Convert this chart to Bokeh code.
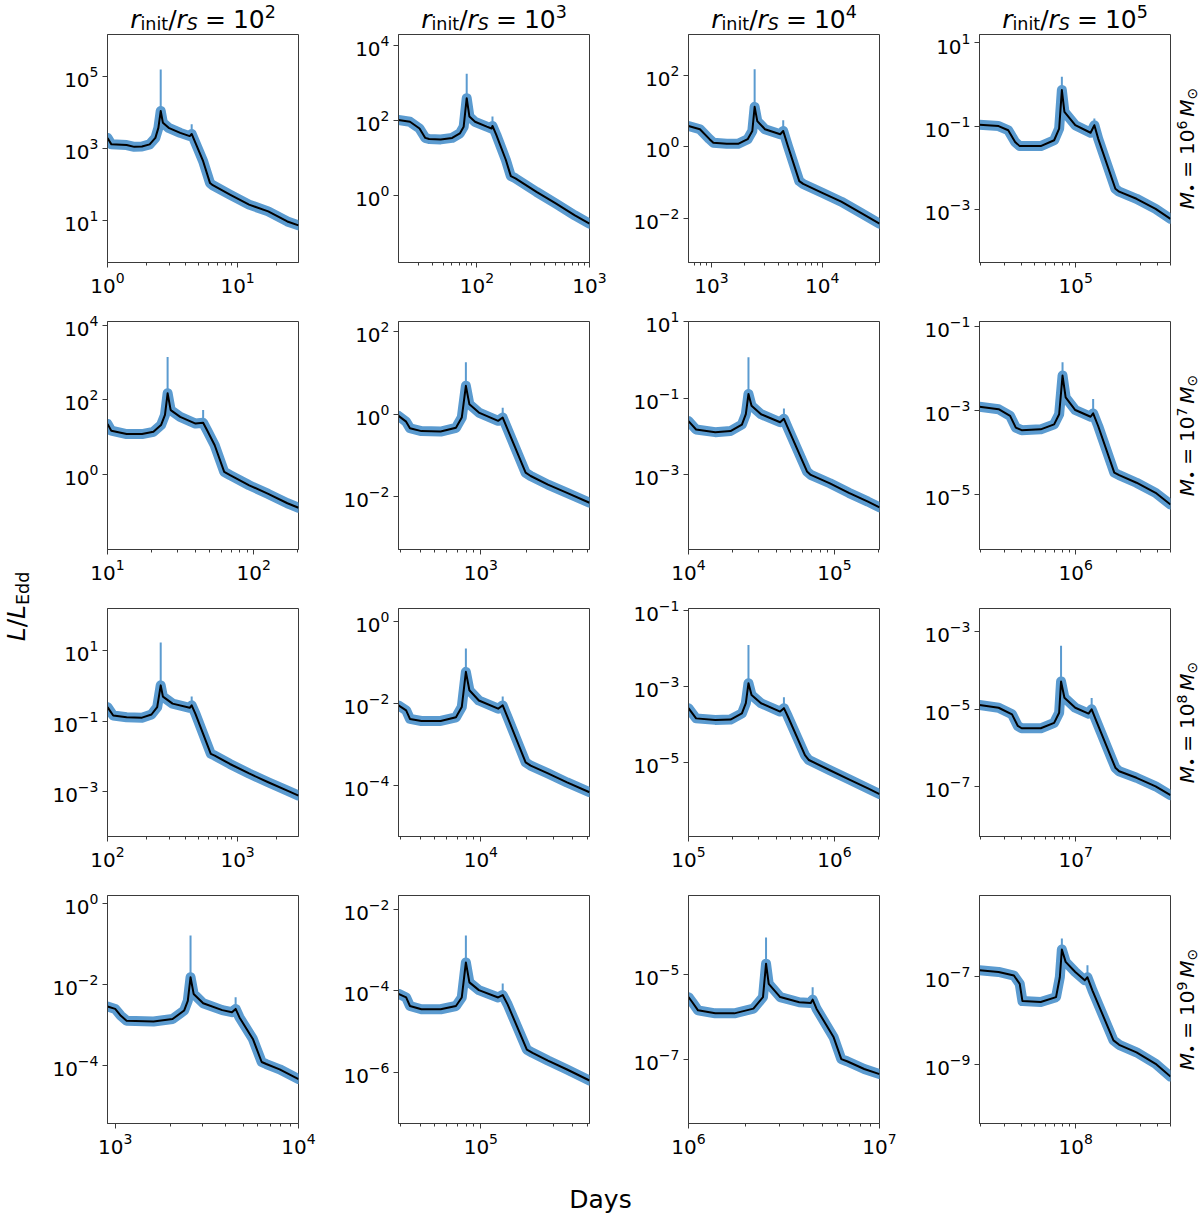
import numpy as np
from bokeh.plotting import figure
from bokeh.layouts import row, column
from bokeh.models import Range1d, FixedTicker, Label
from bokeh.embed import file_html
from bokeh.resources import INLINE

# ---------------- data (log10 days, log10 L/L_Edd) ----------------
R_INIT_EXP = [2, 3, 4, 5]
MASS_EXP = [6, 7, 8, 9]

T_11 = [0.0, 0.03, 0.147, 0.206, 0.265, 0.324, 0.368, 0.391, 0.409, 0.426, 0.47, 0.559, 0.632, 0.647, 0.676, 0.735, 0.788, 0.809, 0.941, 1.088, 1.235, 1.382, 1.468]
L_11 = [3.30, 3.12, 3.10, 3.05, 3.06, 3.12, 3.30, 3.58, 4.05, 3.72, 3.58, 3.44, 3.35, 3.41, 3.16, 2.65, 2.04, 1.98, 1.72, 1.44, 1.25, 0.97, 0.86]
SPIKES_11 = [[0.409, 4.05, 5.21], [0.647, 3.41, 3.68]]

T_12 = [1.303, 1.405, 1.49, 1.541, 1.575, 1.678, 1.78, 1.848, 1.882, 1.909, 1.933, 1.983, 2.087, 2.13, 2.138, 2.172, 2.257, 2.301, 2.342, 2.529, 2.7, 2.87, 3.0]
L_12 = [2.02, 1.97, 1.79, 1.54, 1.51, 1.50, 1.54, 1.66, 1.84, 2.60, 2.11, 1.97, 1.84, 1.79, 1.86, 1.62, 0.95, 0.52, 0.46, 0.10, -0.21, -0.53, -0.75]
SPIKES_12 = [[1.909, 2.60, 3.25], [2.138, 1.86, 2.11]]

T_13 = [2.793, 2.896, 2.983, 3.017, 3.138, 3.241, 3.327, 3.369, 3.39, 3.414, 3.483, 3.621, 3.648, 3.69, 3.793, 3.828, 4.0, 4.172, 4.345, 4.517]
L_13 = [0.59, 0.50, 0.22, 0.12, 0.09, 0.09, 0.22, 0.45, 1.13, 0.73, 0.50, 0.36, 0.45, 0.03, -0.96, -1.04, -1.29, -1.54, -1.85, -2.16]
SPIKES_13 = [[3.39, 1.13, 2.19], [3.648, 0.45, 0.75]]

T_14 = [4.29, 4.431, 4.502, 4.553, 4.587, 4.742, 4.841, 4.878, 4.898, 4.917, 4.997, 5.11, 5.138, 5.166, 5.293, 5.321, 5.449, 5.59, 5.70]
L_14 = [-0.97, -1.0, -1.10, -1.38, -1.48, -1.48, -1.34, -1.06, -0.14, -0.66, -0.98, -1.16, -0.98, -1.30, -2.50, -2.57, -2.74, -2.98, -3.22]
SPIKES_14 = [[4.898, -0.14, 0.18], [5.138, -0.98, -0.82]]

T_21 = [1.0, 1.026, 1.131, 1.236, 1.314, 1.366, 1.393, 1.411, 1.432, 1.497, 1.602, 1.654, 1.681, 1.733, 1.798, 1.838, 1.969, 2.099, 2.23, 2.306]
L_21 = [1.36, 1.18, 1.09, 1.09, 1.15, 1.33, 1.60, 2.18, 1.73, 1.55, 1.37, 1.39, 1.19, 0.79, 0.08, -0.01, -0.28, -0.51, -0.76, -0.88]
SPIKES_21 = [[1.411, 2.18, 3.15], [1.654, 1.39, 1.73]]

T_22 = [2.461, 2.511, 2.536, 2.611, 2.737, 2.837, 2.875, 2.902, 2.925, 2.987, 3.113, 3.143, 3.175, 3.293, 3.326, 3.439, 3.564, 3.711]
L_22 = [-0.04, -0.18, -0.34, -0.41, -0.42, -0.33, -0.08, 0.69, 0.24, 0.04, -0.16, -0.08, -0.37, -1.42, -1.50, -1.71, -1.91, -2.15]
SPIKES_22 = [[2.902, 0.69, 1.26], [3.143, -0.08, 0.16]]

T_23 = [4.0, 4.052, 4.183, 4.288, 4.366, 4.393, 4.411, 4.432, 4.497, 4.628, 4.654, 4.681, 4.812, 4.838, 4.969, 5.099, 5.23, 5.309]
L_23 = [-1.60, -1.82, -1.89, -1.86, -1.69, -1.42, -0.89, -1.20, -1.42, -1.63, -1.54, -1.78, -2.92, -3.01, -3.23, -3.48, -3.71, -3.86]
SPIKES_23 = [[4.411, -0.89, 0.07], [4.654, -1.54, -1.27]]

T_24 = [5.29, 5.431, 5.516, 5.558, 5.601, 5.742, 5.841, 5.878, 5.903, 5.926, 5.997, 6.11, 6.129, 6.166, 6.285, 6.321, 6.449, 6.59, 6.70]
L_24 = [-2.90, -2.96, -3.12, -3.40, -3.46, -3.44, -3.32, -3.08, -2.16, -2.68, -2.98, -3.14, -3.06, -3.36, -4.47, -4.53, -4.71, -4.95, -5.23]
SPIKES_24 = [[5.903, -2.16, -1.84], [6.129, -3.06, -2.72]]

T_31 = [2.0, 2.044, 2.147, 2.265, 2.338, 2.382, 2.409, 2.426, 2.5, 2.632, 2.647, 2.676, 2.794, 2.824, 2.941, 3.088, 3.235, 3.382, 3.468]
L_31 = [-0.60, -0.84, -0.89, -0.90, -0.81, -0.60, 0.02, -0.30, -0.50, -0.62, -0.55, -0.79, -1.93, -1.98, -2.22, -2.49, -2.74, -2.98, -3.12]
SPIKES_31 = [[2.409, 0.02, 1.24], [2.647, -0.55, -0.30]]

T_32 = [3.461, 3.511, 3.536, 3.611, 3.737, 3.837, 3.875, 3.902, 3.925, 3.987, 4.113, 4.143, 4.175, 4.293, 4.326, 4.439, 4.564, 4.711]
L_32 = [-2.04, -2.16, -2.37, -2.42, -2.42, -2.33, -2.08, -1.22, -1.67, -1.92, -2.12, -2.04, -2.33, -3.43, -3.51, -3.70, -3.92, -4.16]
SPIKES_32 = [[3.902, -1.22, -0.65], [4.143, -2.04, -1.82]]

T_33 = [5.0, 5.052, 5.183, 5.288, 5.366, 5.393, 5.411, 5.432, 5.497, 5.628, 5.654, 5.681, 5.798, 5.825, 5.969, 6.099, 6.23, 6.309]
L_33 = [-3.57, -3.84, -3.88, -3.87, -3.71, -3.44, -2.91, -3.22, -3.44, -3.66, -3.57, -3.79, -4.81, -4.94, -5.21, -5.45, -5.69, -5.84]
SPIKES_33 = [[5.411, -2.91, -1.90], [5.654, -3.57, -3.28]]

T_34 = [6.29, 6.431, 6.53, 6.573, 6.601, 6.742, 6.841, 6.878, 6.892, 6.917, 6.997, 7.095, 7.118, 7.152, 7.293, 7.321, 7.449, 7.59, 7.70]
L_34 = [-4.89, -4.96, -5.13, -5.43, -5.49, -5.49, -5.35, -5.09, -4.28, -4.70, -4.96, -5.11, -5.00, -5.30, -6.51, -6.60, -6.77, -6.99, -7.22]
SPIKES_34 = [[6.892, -4.28, -3.36], [7.118, -5.00, -4.71]]

T_41 = [2.958, 3.0, 3.031, 3.062, 3.209, 3.313, 3.376, 3.396, 3.411, 3.428, 3.48, 3.584, 3.637, 3.657, 3.678, 3.751, 3.799, 3.824, 3.897, 4.0]
L_41 = [-2.54, -2.60, -2.77, -2.89, -2.91, -2.85, -2.64, -2.40, -1.82, -2.23, -2.46, -2.63, -2.68, -2.60, -2.81, -3.34, -3.91, -3.96, -4.09, -4.33]
SPIKES_41 = [[3.411, -1.82, -0.79], [3.657, -2.60, -2.31]]

T_42 = [4.461, 4.511, 4.536, 4.611, 4.737, 4.837, 4.875, 4.902, 4.925, 4.987, 5.113, 5.143, 5.175, 5.301, 5.338, 5.439, 5.564, 5.711]
L_42 = [-4.07, -4.16, -4.37, -4.45, -4.45, -4.37, -4.16, -3.30, -3.79, -3.98, -4.16, -4.10, -4.33, -5.44, -5.52, -5.71, -5.93, -6.20]
SPIKES_42 = [[4.902, -3.30, -2.64], [5.143, -4.10, -3.82]]

T_43 = [6.0, 6.02, 6.05, 6.14, 6.24, 6.34, 6.39, 6.406, 6.42, 6.48, 6.58, 6.64, 6.65, 6.67, 6.76, 6.80, 6.83, 6.92, 7.0]
L_43 = [-5.53, -5.65, -5.84, -5.91, -5.91, -5.80, -5.53, -4.75, -5.22, -5.53, -5.65, -5.67, -5.59, -5.80, -6.47, -6.98, -7.03, -7.21, -7.33]
SPIKES_43 = [[6.406, -4.75, -4.14], [6.65, -5.59, -5.30]]

T_44 = [7.29, 7.431, 7.544, 7.587, 7.607, 7.742, 7.855, 7.883, 7.898, 7.926, 7.997, 8.067, 8.087, 8.124, 8.279, 8.321, 8.449, 8.59, 8.70]
L_44 = [-6.86, -6.90, -6.98, -7.17, -7.56, -7.58, -7.47, -7.02, -6.39, -6.67, -6.90, -7.09, -7.02, -7.32, -8.45, -8.55, -8.72, -8.98, -9.27]
SPIKES_44 = [[7.898, -6.39, -6.14], [8.087, -7.02, -6.75]]

# axis limits (log10) and labelled y-tick exponents, per row
XLIM_ROW1 = [(0.0, 1.468), (1.303, 3.0), (2.793, 4.517), (4.29, 5.70)]
XLIM_ROW2 = [(1.0, 2.306), (2.461, 3.711), (4.0, 5.309), (5.29, 6.70)]
XLIM_ROW3 = [(2.0, 3.468), (3.461, 4.711), (5.0, 6.309), (6.29, 7.70)]
XLIM_ROW4 = [(2.958, 4.0), (4.461, 5.711), (6.0, 7.0), (7.29, 8.70)]
YLIM_ROW1 = [(-0.175, 6.184), (-1.786, 4.30), (-3.252, 3.167), (-4.264, 1.19)]
YLIM_ROW2 = [(-1.996, 4.098), (-3.285, 2.252), (-4.965, 1.01), (-6.299, -0.873)]
YLIM_ROW3 = [(-4.286, 2.21), (-5.241, 0.327), (-6.96, -0.938), (-8.287, -2.395)]
YLIM_ROW4 = [(-5.427, 0.198), (-7.257, -1.655), (-8.484, -3.156), (-10.333, -5.167)]
YTICKS_ROW1 = [[1, 3, 5], [0, 2, 4], [-2, 0, 2], [-3, -1, 1]]
YTICKS_ROW2 = [[0, 2, 4], [-2, 0, 2], [-3, -1, 1], [-5, -3, -1]]
YTICKS_ROW3 = [[-3, -1, 1], [-4, -2, 0], [-5, -3, -1], [-7, -5, -3]]
YTICKS_ROW4 = [[-4, -2, 0], [-6, -4, -2], [-7, -5], [-9, -7]]

# ---------------- assembly ----------------
PANELS = [
    [(T_11, L_11, SPIKES_11), (T_12, L_12, SPIKES_12), (T_13, L_13, SPIKES_13), (T_14, L_14, SPIKES_14)],
    [(T_21, L_21, SPIKES_21), (T_22, L_22, SPIKES_22), (T_23, L_23, SPIKES_23), (T_24, L_24, SPIKES_24)],
    [(T_31, L_31, SPIKES_31), (T_32, L_32, SPIKES_32), (T_33, L_33, SPIKES_33), (T_34, L_34, SPIKES_34)],
    [(T_41, L_41, SPIKES_41), (T_42, L_42, SPIKES_42), (T_43, L_43, SPIKES_43), (T_44, L_44, SPIKES_44)],
]
XLIM = [XLIM_ROW1, XLIM_ROW2, XLIM_ROW3, XLIM_ROW4]
YLIM = [YLIM_ROW1, YLIM_ROW2, YLIM_ROW3, YLIM_ROW4]
YTICKS = [YTICKS_ROW1, YTICKS_ROW2, YTICKS_ROW3, YTICKS_ROW4]

BLUE = "#5b9bd0"
FONT = "DejaVu Sans"
SPINE = "#3a3a3a"
FRAME_W, FRAME_H = 191, 228
BORDER_L = [63, 75, 74, 75]
BORDER_R = [25, 25, 25, 2]
BORDER_T = [1, 19, 19, 19]
BORDER_B = [40, 40, 40, 47]
LEFT_W, RIGHT_W, TOP_H, BOTTOM_H = 44, 28, 33, 48
TOTAL_W, TOTAL_H = 1200, 1218
MID_W = TOTAL_W - LEFT_W - RIGHT_W
FRAME_LEFT = [107, 398, 688, 979]    # page x of panel frames
ROW_CENTERS = [148, 435, 722, 1009]  # page y of panel centres
BASE_FIX = 0.28                      # baseline correction (fraction of font size)

EM = {"r": 0.411, "i": 0.278, "n": 0.634, "t": 0.392, "/": 0.337, "S": 0.635, "=": 0.838,
      "M": 0.863, "\u2022": 0.590, "\u2299": 0.838, "L": 0.557, "E": 0.632, "d": 0.635,
      " ": 0.318, "D": 0.770, "a": 0.613, "y": 0.592, "s": 0.521}
for _d in "0123456789":
    EM[_d] = 0.636


def put_text(p, pieces, size, center, base, vertical=False):
    """pieces: (text, rel_size, italic, shift_up_px, gap_before, gap_after); data units = pixels."""
    widths = [g0 + g1 + size * rs * sum(EM[ch] for ch in txt) for txt, rs, it, sh, g0, g1 in pieces]
    pos = center - sum(widths) / 2.0
    for (txt, rs, it, sh, g0, g1), w in zip(pieces, widths):
        pos += g0
        fs = size * rs
        kw = dict(text=txt, text_font=FONT, text_font_size=f"{fs:.1f}px",
                  text_font_style="italic" if it else "normal", text_color="black",
                  text_align="left", text_baseline="alphabetic")
        fix = BASE_FIX * fs
        if vertical:
            lab = Label(x=base - sh - fix, y=pos, angle=np.pi / 2, **kw)
        else:
            lab = Label(x=pos, y=base + sh + fix, **kw)
        p.add_layout(lab)
        pos += w - g0


def style_axis(ax):
    ax.major_tick_out = 5
    ax.major_tick_in = 0
    ax.minor_tick_out = 3
    ax.minor_tick_in = 0
    ax.major_label_text_font = FONT
    ax.major_label_text_font_size = "20px"
    ax.major_label_text_color = "black"
    ax.major_label_standoff = 4
    ax.axis_line_color = SPINE
    ax.major_tick_line_color = SPINE
    ax.minor_tick_line_color = SPINE


def make_panel(r, c):
    t, l, spikes = PANELS[r][c]
    x0, x1 = XLIM[r][c]
    y0, y1 = YLIM[r][c]
    p = figure(x_axis_type="log", y_axis_type="log",
               x_range=Range1d(10.0 ** x0, 10.0 ** x1), y_range=Range1d(10.0 ** y0, 10.0 ** y1),
               frame_width=FRAME_W, frame_height=FRAME_H,
               min_border_left=BORDER_L[c], min_border_right=BORDER_R[c],
               min_border_top=BORDER_T[r], min_border_bottom=BORDER_B[r],
               toolbar_location=None, output_backend="svg", title=None)
    p.grid.visible = False
    p.outline_line_color = SPINE
    p.outline_line_width = 1
    p.outline_line_alpha = 1.0
    decades = range(int(np.floor(x0)), int(np.ceil(x1)) + 1)
    p.xaxis.ticker = FixedTicker(ticks=[10.0 ** d for d in decades],
                                 minor_ticks=[k * 10.0 ** d for d in decades for k in range(2, 10)])
    p.yaxis.ticker = FixedTicker(ticks=[10.0 ** e for e in YTICKS[r][c]], minor_ticks=[])
    style_axis(p.xaxis[0])
    style_axis(p.yaxis[0])

    xs = 10.0 ** np.array(t)
    ys = 10.0 ** np.array(l)
    p.line(xs, ys, line_color=BLUE, line_width=10, line_join="round", line_cap="round")
    for ts, lb, lt in spikes:
        p.segment(x0=[10.0 ** ts], y0=[10.0 ** lb], x1=[10.0 ** ts], y1=[10.0 ** lt],
                  line_color=BLUE, line_width=2)
    p.line(xs, ys, line_color="black", line_width=2, line_join="round")
    return p


def strip(w, h):
    s = figure(width=w, height=h, x_range=Range1d(0, w), y_range=Range1d(0, h),
               min_border=0, toolbar_location=None, output_backend="svg", title=None,
               x_axis_location=None, y_axis_location=None)
    s.grid.visible = False
    s.outline_line_color = None
    return s


rows = [row(*[make_panel(r, c) for c in range(4)]) for r in range(4)]

# column titles (top strip)
top = strip(MID_W, TOP_H)
for c in range(4):
    pieces = [("r", 1, True, 0, 0, 0), ("init", 0.7, False, -2.5, 0, 0), ("/", 1, False, 0, 0, 0),
              ("r", 1, True, 0, 0, 0), ("S", 0.7, True, -2.5, 0, 0), ("=", 1, False, 0, 7, 7),
              ("10", 1, False, 0, 0, 0), (str(R_INIT_EXP[c]), 0.7, False, 10, 0, 0)]
    put_text(top, pieces, 25, FRAME_LEFT[c] + FRAME_W / 2.0 - LEFT_W, TOP_H - 25.5)

# mass labels (right strip)
right = strip(RIGHT_W, TOTAL_H)
for r in range(4):
    pieces = [("M", 1, True, 0, 0, 0), ("\u2022", 0.7, False, -3.5, 0, 0), ("=", 1, False, 0, 6, 6),
              ("10", 1, False, 0, 0, 0), (str(MASS_EXP[r]), 0.7, False, 7, 0, 4),
              ("M", 1, True, 0, 0, 0), ("\u2299", 0.7, False, -3.5, 0, 0)]
    put_text(right, pieces, 20, TOTAL_H - ROW_CENTERS[r], 1192 - (TOTAL_W - RIGHT_W), vertical=True)

# y label (left strip)
left = strip(LEFT_W, TOTAL_H)
put_text(left, [("L", 1, True, 0, 0, 0), ("/", 1, False, 0, 0, 0), ("L", 1, True, 0, 0, 0),
                ("Edd", 0.7, False, -4, 0, 0)], 25, TOTAL_H - 606, 23, vertical=True)

# x label (bottom strip)
bottom = strip(MID_W, BOTTOM_H)
put_text(bottom, [("Days", 1, False, 0, 0, 0)], 25, 600 - LEFT_W, TOTAL_H - 1206)

layout = row(left, column(top, *rows, bottom), right)

open("out.html", "w").write(file_html(layout, INLINE))
